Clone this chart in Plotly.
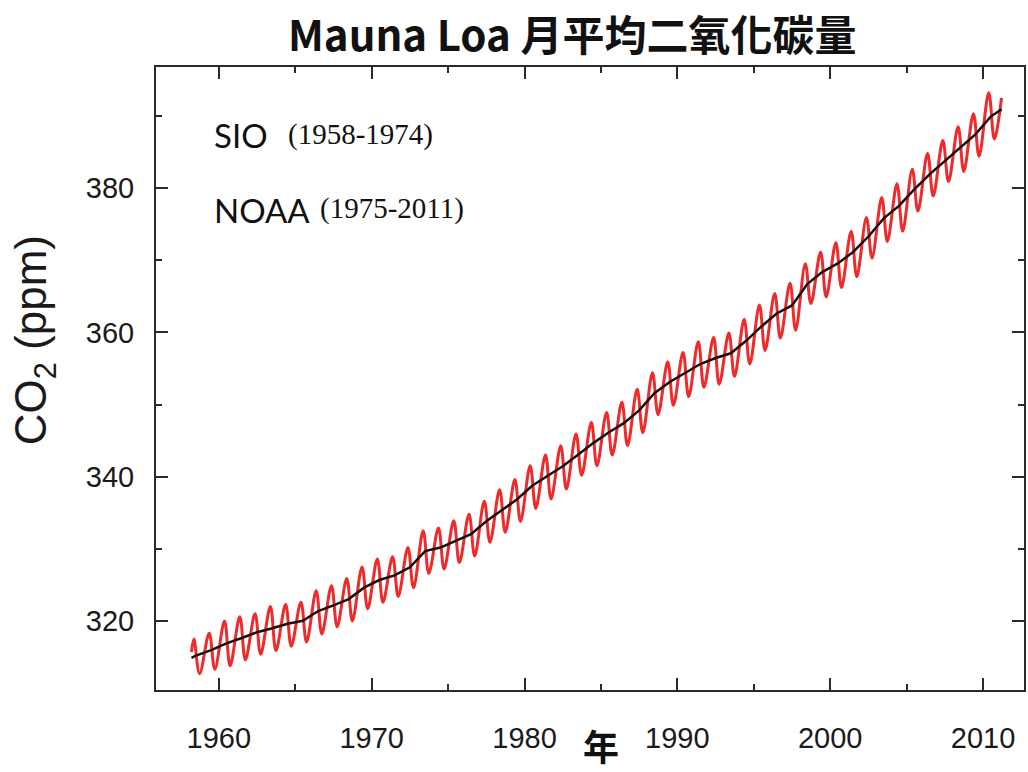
import plotly.graph_objects as go

# Mauna Loa CO2 record (ppm)
years = list(range(1958, 2011))

# seasonal maximum (spring) and minimum (autumn) monthly means, per year
spring_max = [317.5, 318.3, 320.0, 320.6, 321.0, 322.0, 322.3, 322.6, 324.2, 324.9,
              325.9, 327.5, 328.6, 328.9, 330.2, 332.5, 332.9, 333.9, 334.8, 336.6,
              338.2, 339.6, 341.5, 343.0, 344.3, 345.9, 347.5, 348.9, 350.3, 352.1,
              354.4, 355.9, 357.2, 358.7, 359.3, 359.9, 361.8, 363.8, 365.4, 366.8,
              369.5, 371.1, 372.4, 374.0, 375.9, 378.7, 380.6, 382.6, 384.8, 386.6,
              388.5, 390.3, 393.2]
autumn_min = [312.7, 313.3, 313.8, 314.6, 315.4, 315.9, 316.5, 317.1, 318.2, 319.2,
              320.0, 321.7, 322.6, 323.4, 324.6, 326.6, 327.2, 328.1, 329.0, 330.9,
              332.3, 333.8, 335.6, 336.9, 338.3, 340.2, 341.5, 343.0, 344.3, 346.1,
              348.6, 349.9, 351.1, 352.4, 352.8, 353.9, 355.6, 357.5, 359.2, 360.3,
              364.0, 364.9, 366.2, 367.7, 370.3, 372.6, 374.0, 376.8, 378.9, 380.9,
              382.3, 384.4, 386.8]
# record start (Mar 1958) and end (Mar 2011) monthly values
first_month = (1958.21, 315.7)
last_month = (2011.21, 392.5)

# deseasonalized trend (annual means)
trend = [315.2, 315.97, 316.91, 317.64, 318.45, 318.99, 319.62, 320.04, 321.38, 322.16,
         323.04, 324.62, 325.68, 326.32, 327.45, 329.68, 330.18, 331.11, 332.04, 333.83,
         335.40, 336.84, 338.75, 340.11, 341.45, 343.05, 344.65, 346.12, 347.42, 349.19,
         351.57, 353.12, 354.39, 355.61, 356.45, 357.10, 358.83, 360.82, 362.61, 363.73,
         366.70, 368.38, 369.55, 371.14, 373.28, 375.80, 377.52, 379.80, 381.90, 383.79,
         385.60, 387.43, 389.90]
trend_first = (1958.21, 314.9)
trend_last = (2011.21, 390.9)

x_ticks = [1960, 1970, 1980, 1990, 2000, 2010]
y_ticks = [320, 340, 360, 380]

# assemble the seasonal curve: spring peak (May) then autumn low (Sep/Oct) each year
red_x, red_y = [first_month[0]], [first_month[1]]
for yr, hi, lo in zip(years, spring_max, autumn_min):
    red_x += [yr + 0.37, yr + 0.74]
    red_y += [hi, lo]
red_x.append(last_month[0])
red_y.append(last_month[1])

blk_x = [trend_first[0]] + [yr + 0.5 for yr in years] + [trend_last[0]]
blk_y = [trend_first[1]] + trend + [trend_last[1]]

fig = go.Figure()
fig.add_trace(go.Scatter(x=red_x, y=red_y, mode="lines",
                         line=dict(color="#ee2a2a", width=3, shape="spline", smoothing=1.0),
                         hoverinfo="skip", showlegend=False))
fig.add_trace(go.Scatter(x=blk_x, y=blk_y, mode="lines",
                         line=dict(color="#111111", width=2.5),
                         hoverinfo="skip", showlegend=False))

L, R, T, B = 156, 1026, 67, 690
W, H = 1028, 772

def px(xp):
    return (xp - L) / (R - L)

def py(yp):
    return (B - yp) / (B - T)

axis_common = dict(showgrid=False, zeroline=False, showline=True, linecolor="#2a2a2a",
                   linewidth=2, mirror="allticks", ticks="inside", ticklen=12, tickwidth=2,
                   tickcolor="#2a2a2a",
                   tickfont=dict(family="Liberation Sans, Arial, sans-serif", size=29, color="#1a1a1a"))

fig.update_xaxes(range=[1955.89, 2012.68], tickvals=x_ticks, ticktext=[str(v) for v in x_ticks],
                 ticklabelstandoff=21,
                 minor=dict(ticks="inside", ticklen=6, tickwidth=2, tickcolor="#2a2a2a",
                            tickvals=[1965, 1975, 1985, 1995, 2005]),
                 **axis_common)
fig.update_yaxes(range=[310.44, 396.77], tickvals=y_ticks, ticktext=[str(v) for v in y_ticks],
                 ticklabelstandoff=14,
                 minor=dict(ticks="inside", ticklen=6, tickwidth=2, tickcolor="#2a2a2a",
                            tickvals=[330, 350, 370, 390]),
                 **axis_common)

annotations = [
    dict(text="<b>Mauna Loa 月平均二氧化碳量</b>", x=px(573), y=py(33),
         font=dict(family="Noto Sans CJK TC", size=42, color="#111111")),
    dict(text="CO<sub>2</sub> (ppm)", x=px(34), y=py(340), textangle=-90,
         font=dict(family="Liberation Sans, Arial, sans-serif", size=44, color="#1a1a1a")),
    dict(text="年", x=px(602), y=py(745),
         font=dict(family="Noto Sans CJK TC", size=36, color="#111111", weight=600)),
    dict(text="SIO", x=px(212), y=py(135), xanchor="left",
         font=dict(family="Lato, sans-serif", size=33, color="#111111")),
    dict(text="(1958-1974)", x=px(286), y=py(134), xanchor="left",
         font=dict(family="Liberation Serif, serif", size=29, color="#111111")),
    dict(text="NOAA", x=px(212), y=py(210), xanchor="left",
         font=dict(family="Lato, sans-serif", size=33, color="#111111")),
    dict(text="(1975-2011)", x=px(318), y=py(209), xanchor="left",
         font=dict(family="Liberation Serif, serif", size=29, color="#111111")),
]
for a in annotations:
    a.setdefault("xanchor", "center")
    a.update(xref="paper", yref="paper", yanchor="middle", showarrow=False)

fig.update_layout(width=W, height=H, margin=dict(l=L, r=W - R, t=T, b=H - B),
                  paper_bgcolor="white", plot_bgcolor="white",
                  annotations=annotations)

fig.write_html("out.html")
